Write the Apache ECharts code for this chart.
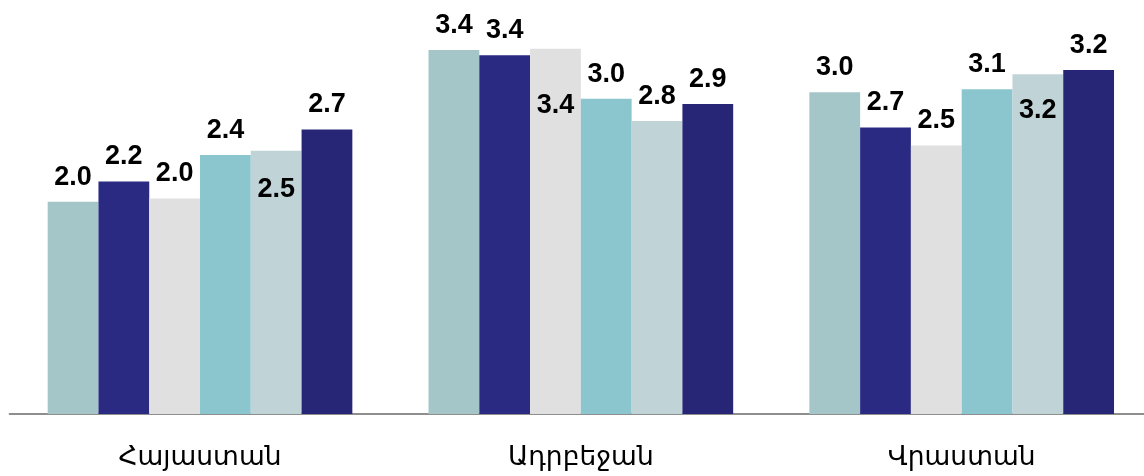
<!DOCTYPE html>
<html><head><meta charset="utf-8">
<script src="https://cdn.jsdelivr.net/npm/echarts@6/dist/echarts.min.js"></script>
<style>html,body{margin:0;padding:0;background:#fff}#c{width:1144px;height:476px}</style>
</head><body><div id="c"></div>
<script>
const categories = ['Հայաստան', 'Ադրբեջան', 'Վրաստան'];
const s1 = [2.00, 3.43, 3.03];
const s2 = [2.19, 3.38, 2.70];
const s3 = [2.03, 3.44, 2.53];
const s4 = [2.44, 2.97, 3.06];
const s5 = [2.48, 2.76, 3.20];
const s6 = [2.68, 2.92, 3.24];
const seriesNames = ['Սերիա 1', 'Սերիա 2', 'Սերիա 3', 'Սերիա 4', 'Սերիա 5', 'Սերիա 6'];

const allData = [s1, s2, s3, s4, s5, s6];
const colors = ['#a4c6c8', '#2b2a83', '#e0e0e0', '#8bc6cf', '#c0d3d7', '#272676'];
// labels drawn inside the bar: series index -> {category index: distance from bar top}
const insideMap = {2: {1: 43}, 4: {0: 25, 2: 23}};

const labelFont = {fontFamily: 'Liberation Sans', fontWeight: 'bold', fontSize: 27, color: '#000'};

const series = allData.map((arr, si) => ({
  name: seriesNames[si],
  type: 'bar',
  barGap: '0%',
  barCategoryGap: '20%',
  itemStyle: {color: colors[si]},
  label: Object.assign({show: true, position: 'top', distance: 11,
    formatter: p => p.value.toFixed(1)}, labelFont),
  data: arr.map((v, ci) => {
    const d = (insideMap[si] || {})[ci];
    return d !== undefined ? {value: v, label: {position: 'insideTop', distance: d}} : v;
  })
}));

const chart = echarts.init(document.getElementById('c'), null, {renderer: 'canvas'});
chart.setOption({
  animation: false,
  grid: {left: 9.6, width: 1142.5, top: 0, bottom: 62, containLabel: false, outerBoundsMode: 'none'},
  xAxis: {
    type: 'category', data: categories,
    axisTick: {show: false},
    axisLine: {show: true, lineStyle: {color: '#8e8e8e', width: 2}},
    axisLabel: {fontFamily: 'DejaVu Sans', fontSize: 26.5, color: '#000', margin: 31}
  },
  yAxis: {type: 'value', min: 0, max: 3.9, show: false, splitLine: {show: false}},
  series: series
});
</script></body></html>
